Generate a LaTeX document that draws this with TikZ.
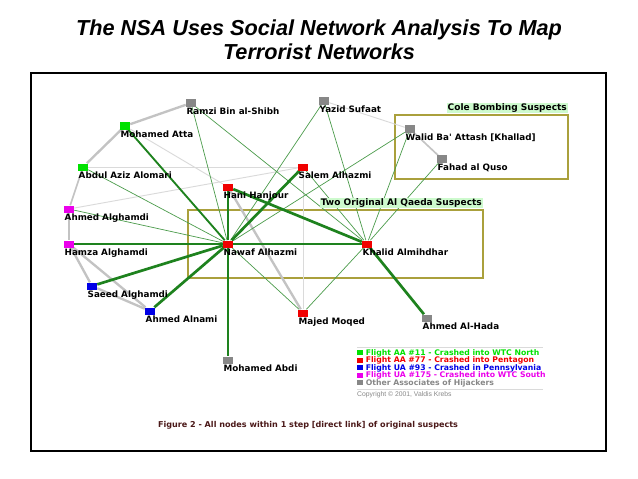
\documentclass[tikz,border=0pt]{standalone}
\usepackage{fontspec}
\setmainfont{Liberation Sans}
\newfontfamily\labelfont{DejaVu Sans}
\usepackage{tikz}
\usetikzlibrary{positioning, backgrounds}
\definecolor{aagreen}{RGB}{0, 225, 0}
\definecolor{aared}{RGB}{240, 0, 0}
\definecolor{uablue}{RGB}{0, 0, 230}
\definecolor{uamagenta}{RGB}{235, 0, 235}
\definecolor{assocgray}{RGB}{135, 135, 135}
\definecolor{linkgreen}{RGB}{30, 130, 30}
\definecolor{weakgreen}{RGB}{75, 155, 75}
\definecolor{ringgray}{RGB}{195, 195, 195}
\definecolor{faintgray}{RGB}{218, 218, 218}
\definecolor{boxolive}{RGB}{170, 160, 60}
\definecolor{tagbg}{RGB}{205, 250, 205}
\definecolor{captionred}{RGB}{75, 25, 25}

\begin{document}
\begin{tikzpicture}[x=0.03cm, y=-0.03cm,
    person/.style={rectangle, inner sep=0pt, minimum width=0.3cm, minimum height=0.21cm, fill=#1},
    who/.style={anchor=north west, inner sep=0.6pt, font=\labelfont\bfseries\fontsize{7.5}{8.5}\selectfont},
    strong/.style={linkgreen, line width=2.3pt},
    medium/.style={linkgreen, line width=1.6pt},
    weak/.style={weakgreen, line width=0.6pt},
    ring/.style={ringgray, line width=2pt},
    faint/.style={faintgray, line width=0.8pt},
    groupbox/.style={boxolive, line width=1.6pt},
    grouptag/.style={anchor=south east, fill=tagbg, inner sep=0.8pt, font=\labelfont\bfseries\fontsize{7.7}{8.5}\selectfont},
    legend/.style={anchor=west, inner sep=0pt, font=\labelfont\bfseries\fontsize{6.6}{7}\selectfont}]
    \useasboundingbox (0,0) rectangle (638,479);

    % title and frame
    \node [align=center, font=\bfseries\itshape\fontsize{18.5}{20.5}\selectfont] (title) at (319,40) {The NSA Uses Social Network Analysis To Map\\Terrorist Networks};
    \draw [line width=1.1pt] (31,73) rectangle (606,451);

    % hijackers and associates
    \node [person=assocgray, label={[who]south west:Ramzi Bin al-Shibh}] (ramzi) at (191,103) {};
    \node [person=aagreen, label={[who]south west:Mohamed Atta}] (atta) at (125,126) {};
    \node [person=aagreen, label={[who]south west:Abdul Aziz Alomari}] (alomari) at (83,167) {};
    \node [person=uamagenta, label={[who]south west:Ahmed Alghamdi}] (ahmedg) at (69,209) {};
    \node [person=uamagenta, label={[who]south west:Hamza Alghamdi}] (hamza) at (69,244) {};
    \node [person=uablue, label={[who]south west:Saeed Alghamdi}] (saeed) at (92,286) {};
    \node [person=uablue, label={[who]south west:Ahmed Alnami}] (alnami) at (150,311) {};
    \node [person=aared, label={[who]south west:Hani Hanjour}] (hani) at (228,187) {};
    \node [person=aared, label={[who]south west:Nawaf Alhazmi}] (nawaf) at (228,244) {};
    \node [person=aared, label={[who]south west:Salem Alhazmi}] (salem) at (303,167) {};
    \node [person=assocgray, label={[who]south west:Yazid Sufaat}] (yazid) at (324,101) {};
    \node [person=assocgray, label={[who]south west:Walid Ba' Attash [Khallad]}] (walid) at (410,129) {};
    \node [person=assocgray, label={[who]south west:Fahad al Quso}] (fahad) at (442,159) {};
    \node [person=aared, label={[who]south west:Khalid Almihdhar}] (khalid) at (367,244) {};
    \node [person=aared, label={[who]south west:Majed Moqed}] (majed) at (303,313) {};
    \node [person=assocgray, label={[who]south west:Ahmed Al-Hada}] (hada) at (427,318) {};
    \node [person=assocgray, label={[who]south west:Mohamed Abdi}] (abdi) at (228,360) {};

    % group tags
    \node [grouptag] (qaedatag) at (483,208.5) {Two Original Al Qaeda Suspects};
    \node [grouptag] (coletag) at (568,113.5) {Cole Bombing Suspects};

    \begin{scope}[on background layer]
        \draw [groupbox] (188,210) rectangle (483,278);
        \draw [groupbox] (395,115) rectangle (568,179);

        \draw [faint] (alomari) -- (salem);
        \draw [faint] (atta) -- (hani);
        \draw [faint] (ahmedg) -- (salem);
        \draw [faint] (salem) -- (majed);
        \draw [faint] (yazid) -- (walid);

        \draw [ring] (ramzi) -- (atta);
        \draw [ring] (atta) -- (alomari);
        \draw [ring, line width=1.4pt] (alomari) -- (ahmedg);
        \draw [ring] (ahmedg) -- (hamza);
        \draw [ring] (hamza) -- (saeed);
        \draw [ring] (hamza) -- (alnami);
        \draw [ring] (saeed) -- (alnami);
        \draw [ring] (hani) -- (majed);
        \draw [ring, line width=1.4pt] (walid) -- (fahad);

        \draw [weak] (nawaf) -- (ramzi);
        \draw [weak] (nawaf) -- (alomari);
        \draw [weak] (nawaf) -- (ahmedg);
        \draw [weak] (nawaf) -- (majed);
        \draw [weak] (nawaf) -- (yazid);
        \draw [weak] (nawaf) -- (walid);
        \draw [weak] (khalid) -- (ramzi);
        \draw [weak] (khalid) -- (yazid);
        \draw [weak] (khalid) -- (walid);
        \draw [weak] (khalid) -- (fahad);
        \draw [weak] (khalid) -- (salem);
        \draw [weak] (khalid) -- (majed);

        \draw [medium] (nawaf) -- (atta);
        \draw [medium] (nawaf) -- (abdi);
        \draw [strong] (nawaf) -- (hani);
        \draw [strong] (nawaf) -- (salem);
        \draw [strong] (nawaf) -- (khalid);
        \draw [strong] (nawaf) -- (hamza);
        \draw [strong] (nawaf) -- (saeed);
        \draw [strong] (nawaf) -- (alnami);
        \draw [strong] (hani) -- (khalid);
        \draw [strong] (khalid) -- (hada);
    \end{scope}

    % legend
    \draw [faintgray, line width=0.8pt] (357,347) -- (543,347);
    \node [legend, text=aagreen] (leg1) at (357,353) {\rule{5pt}{4pt} Flight AA \#11 - Crashed into WTC North};
    \node [legend, text=aared] (leg2) at (357,360.5) {\rule{5pt}{4pt} Flight AA \#77 - Crashed into Pentagon};
    \node [legend, text=uablue] (leg3) at (357,368) {\rule{5pt}{4pt} Flight UA \#93 - Crashed in Pennsylvania};
    \node [legend, text=uamagenta] (leg4) at (357,375.5) {\rule{5pt}{4pt} Flight UA \#175 - Crashed into WTC South};
    \node [legend, text=assocgray] (leg5) at (357,383) {\rule{5pt}{4pt} Other Associates of Hijackers};
    \draw [faintgray, line width=0.8pt] (357,389) -- (543,389);
    \node [legend, text=assocgray, font=\fontsize{5.8}{6}\selectfont] (copy) at (357,394.5) {Copyright \copyright{} 2001, Valdis Krebs};

    \node [text=captionred, font=\labelfont\bfseries\fontsize{6.9}{8}\selectfont] (caption) at (308,425) {Figure 2 - All nodes within 1 step [direct link] of original suspects};
\end{tikzpicture}
\end{document}
